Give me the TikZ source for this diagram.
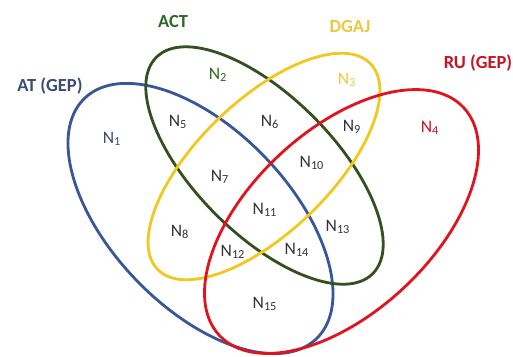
\documentclass[tikz,border=0pt]{standalone}
\usepackage{fontspec}
\setmainfont{Carlito}
\usepackage{tikz}

\definecolor{atblue}{RGB}{56,87,153}
\definecolor{actgreen}{RGB}{52,80,32}
\definecolor{dgajyellow}{RGB}{242,200,30}
\definecolor{rured}{RGB}{225,20,30}
\definecolor{attext}{RGB}{60,75,115}
\definecolor{acttext}{RGB}{45,105,35}
\definecolor{dgajtext}{RGB}{236,200,60}
\definecolor{rutext}{RGB}{200,20,35}

\begin{document}
\begin{tikzpicture}[x=0.02cm,y=0.02cm,
        set/.style={line width=1.6pt},
        title/.style={font=\fontsize{10.5}{12}\selectfont\bfseries},
        region/.style={font=\fontsize{10}{11}\selectfont,text=black!80}]

  \useasboundingbox (0,0) rectangle (513,356);

  % the four sets
  \draw[set,atblue,rotate around={-46:(200.5,137.5)}]
        (200.5,137.5) ellipse [x radius=167,y radius=89];
  \draw[set,actgreen,rotate around={-45:(264.5,190.5)}]
        (264.5,190.5) ellipse [x radius=153,y radius=69];
  \draw[set,dgajyellow,rotate around={44:(264,189.5)}]
        (264,189.5) ellipse [x radius=148,y radius=66];
  \draw[set,rured,rotate around={43:(341.5,134.5)}]
        (341.5,134.5) ellipse [x radius=167,y radius=91];

  \node[title,text=attext] (at) at (50,270) {AT (GEP)};
  \node[title,text=acttext] (act) at (173,334) {ACT};
  \node[title,text=dgajtext] (dgaj) at (350,329) {DGAJ};
  \node[title,text=rutext] (ru) at (478,293) {RU (GEP)};

  \node[region,text=attext] (n1) at (112,217) {N\textsubscript{1}};
  \node[region,text=acttext] (n2) at (218,281) {N\textsubscript{2}};
  \node[region,text=dgajtext] (n3) at (347,276) {N\textsubscript{3}};
  \node[region,text=rutext] (n4) at (430,228) {N\textsubscript{4}};
  \node[region] (n5) at (178,234) {N\textsubscript{5}};
  \node[region] (n6) at (270,234) {N\textsubscript{6}};
  \node[region] (n7) at (220,179) {N\textsubscript{7}};
  \node[region] (n8) at (180,124) {N\textsubscript{8}};
  \node[region] (n9) at (352,229) {N\textsubscript{9}};
  \node[region] (n10) at (312,193) {N\textsubscript{10}};
  \node[region] (n11) at (265,146) {N\textsubscript{11}};
  \node[region] (n12) at (233,104) {N\textsubscript{12}};
  \node[region] (n13) at (338,129) {N\textsubscript{13}};
  \node[region] (n14) at (297,106) {N\textsubscript{14}};
  \node[region] (n15) at (265,52) {N\textsubscript{15}};

\end{tikzpicture}
\end{document}
